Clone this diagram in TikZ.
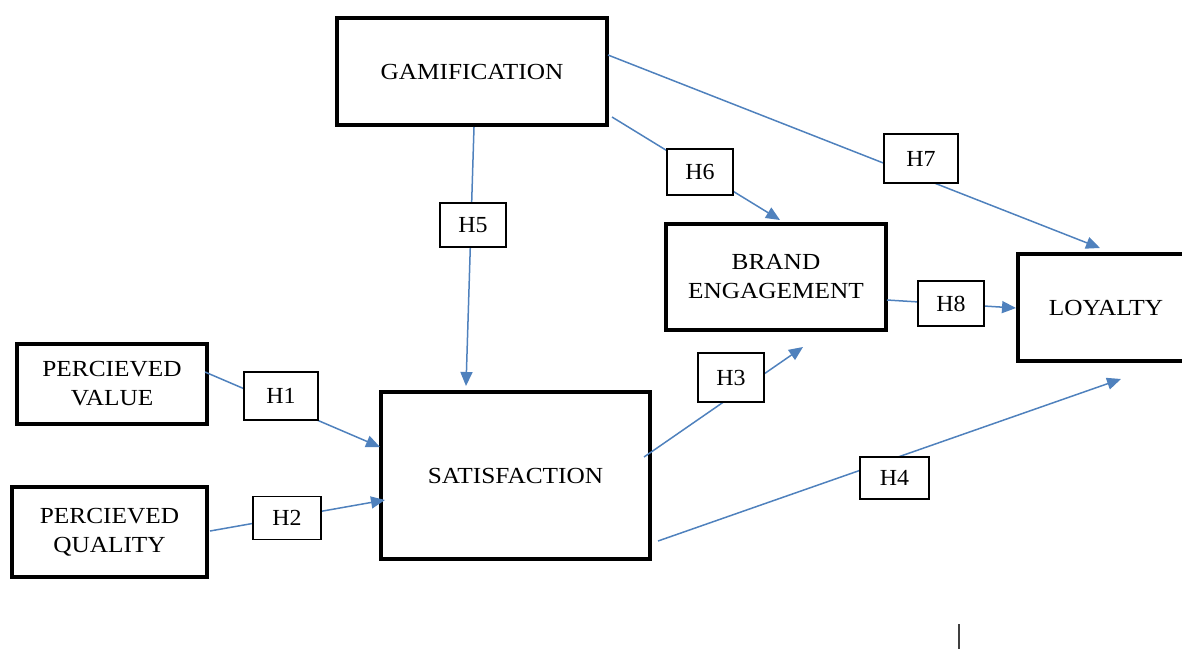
\documentclass[tikz,border=0pt]{standalone}
\usepackage{fontspec}
\setmainfont{Liberation Serif}
\newfontfamily\boxfont{Liberation Serif}[FakeStretch=1.1]
\newfontfamily\labfont{Liberation Serif}[FakeStretch=1.04]
\usetikzlibrary{arrows.meta}
\definecolor{arrowblue}{RGB}{79,129,189}
\begin{document}
\begin{tikzpicture}[x=1pt,y=-1pt,
  bigbox/.style={draw=black, line width=4pt, align=center, inner sep=0pt, font=\boxfont\fontsize{23}{29}\selectfont},
  hbox/.style={draw=black, line width=1.3pt, fill=white, inner sep=0pt, font=\labfont\fontsize{23}{27}\selectfont},
  conn/.style={draw=arrowblue, line width=1.5pt, -{Triangle[length=14pt,width=12pt]}}]
\useasboundingbox (0,0) rectangle (1182,649);
\clip (0,0) rectangle (1182,649);

% main boxes
\node[bigbox, minimum width=270, minimum height=107] (gam) at (472,71.5) {GAMIFICATION};
\node[bigbox, minimum width=220, minimum height=106] (brand) at (776,277) {BRAND\\ENGAGEMENT};
\node[bigbox, minimum width=176, minimum height=107] (loyal) at (1106,307.5) {LOYALTY};
\node[bigbox, minimum width=190, minimum height=80] (pv) at (112,384) {PERCIEVED\\VALUE};
\node[bigbox, minimum width=195, minimum height=90] (pq) at (109.5,532) {PERCIEVED\\QUALITY};
\node[bigbox, minimum width=269, minimum height=167] (sat) at (515.5,475.5) {SATISFACTION};

% connector end points
\coordinate (g7) at (608,55);
\coordinate (l7) at (1100,248);
\coordinate (g6) at (612,117);
\coordinate (b6) at (780,220);
\coordinate (g5) at (474,127);
\coordinate (s5) at (466,386);
\coordinate (v1) at (205,372);
\coordinate (s1) at (380,447);
\coordinate (q2) at (210,531);
\coordinate (s2) at (385,500);
\coordinate (s3) at (644,457);
\coordinate (b3) at (803,347);
\coordinate (s4) at (658,541);
\coordinate (l4) at (1121,379);
\coordinate (b8) at (887,300);
\coordinate (l8) at (1016,308);

% connectors
\draw[conn] (g7) -- (l7);
\draw[conn] (g6) -- (b6);
\draw[conn] (g5) -- (s5);
\draw[conn] (v1) -- (s1);
\draw[conn] (q2) -- (s2);
\draw[conn] (s3) -- (b3);
\draw[conn] (s4) -- (l4);
\draw[conn] (b8) -- (l8);

% hypothesis labels
\node[hbox, minimum width=74, minimum height=49] (h7) at (921,158.5) {H7};
\node[hbox, minimum width=66, minimum height=46] (h6) at (700,172) {H6};
\node[hbox, minimum width=66, minimum height=44] (h5) at (473,225) {H5};
\node[hbox, minimum width=74, minimum height=48] (h1) at (281,396) {H1};
\node[hbox, minimum width=68, minimum height=43] (h2) at (287,518) {H2};
\node[hbox, minimum width=66, minimum height=49] (h3) at (731,377.5) {H3};
\node[hbox, minimum width=69, minimum height=42] (h4) at (894.5,478) {H4};
\node[hbox, minimum width=66, minimum height=45] (h8) at (951,303.5) {H8};

% stray cursor mark
\coordinate (c1) at (959,624);
\coordinate (c2) at (959,649);
\draw[line width=2pt, black!75] (c1) -- (c2);
\end{tikzpicture}
\end{document}
